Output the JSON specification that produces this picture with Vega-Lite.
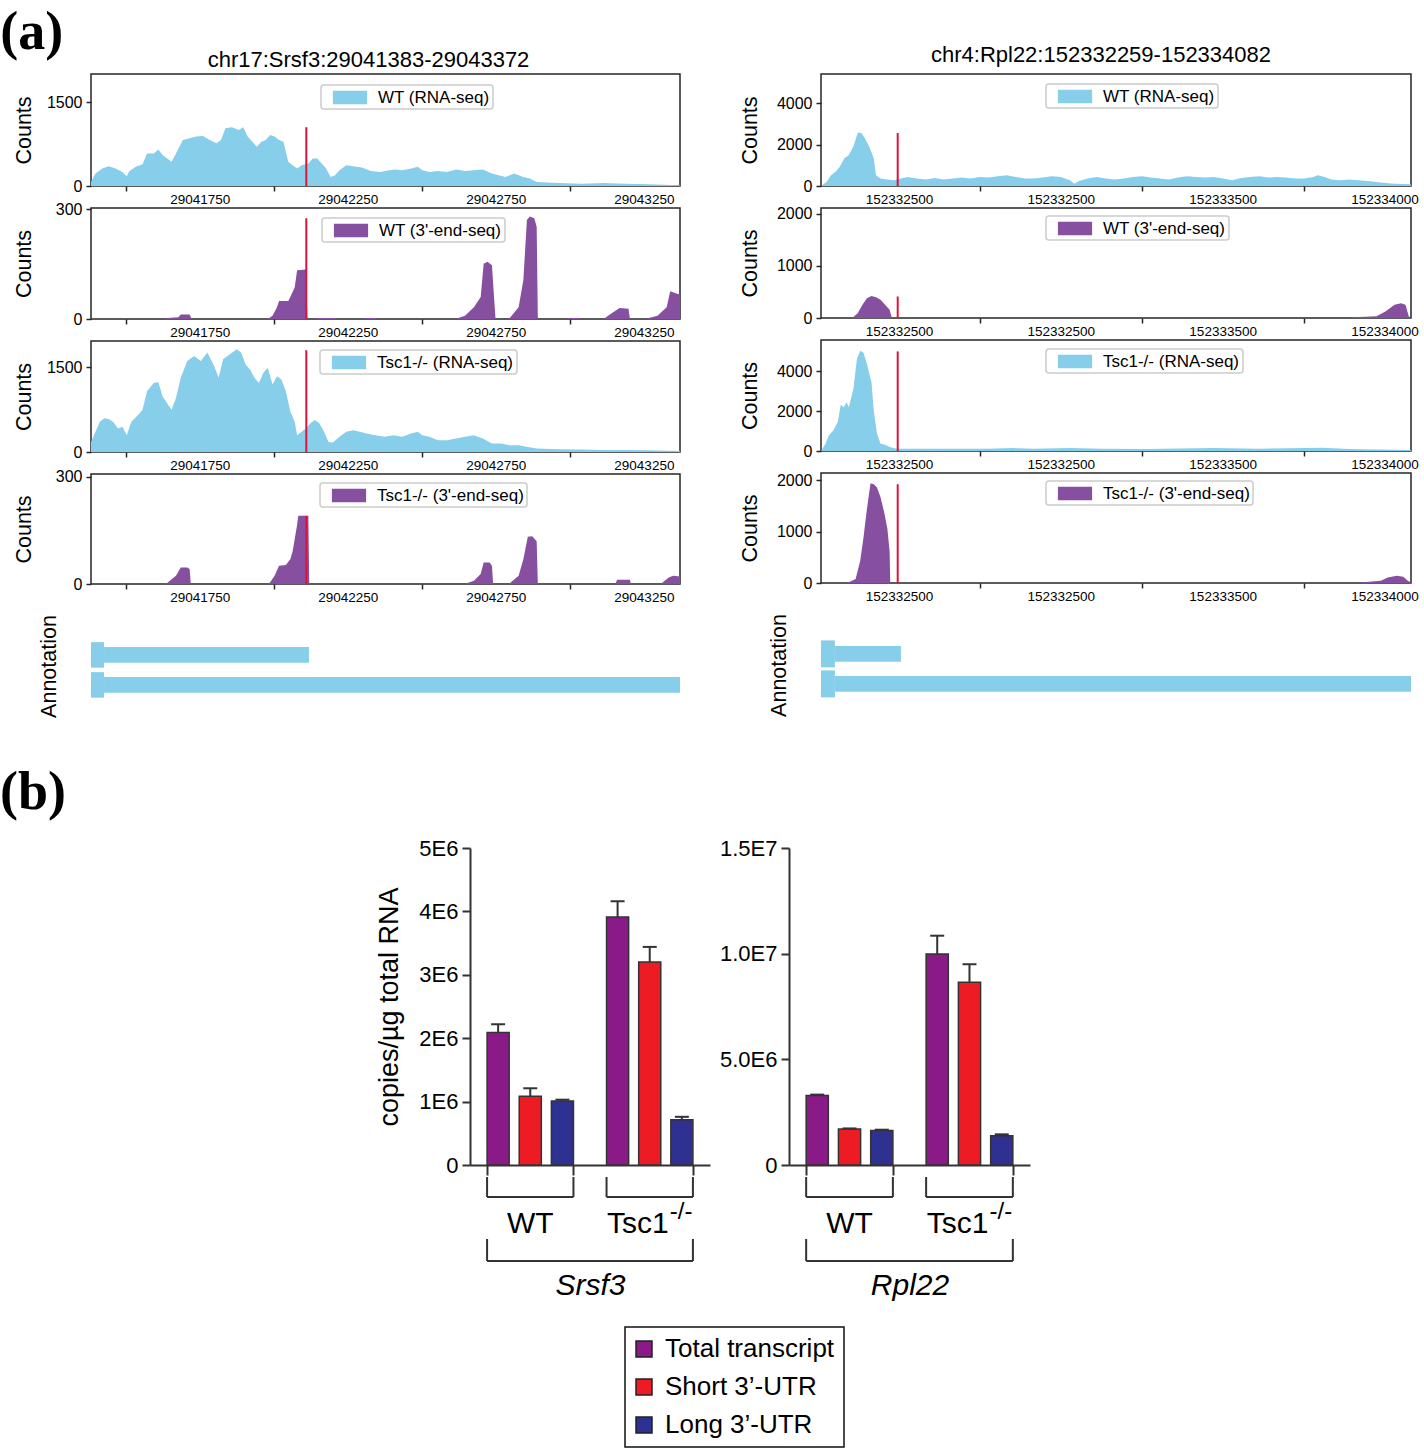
{
"$schema": "https://vega.github.io/schema/vega-lite/v6.json",
"padding": {"left": 0, "top": 6, "right": 0, "bottom": 0},
"config": {
 "font": "Liberation Sans",
 "view": {"stroke": "#262626", "strokeWidth": 1.5},
 "axis": {"grid": false, "labelColor": "black", "titleColor": "black", "tickColor": "#262626", "domainColor": "#262626", "titleFontWeight": "normal", "titleFont": "Liberation Sans", "labelFont": "Liberation Sans"},
 "legend": {"orient": "none", "symbolType": "M-1.8,-0.7H1.8V0.7H-1.8Z", "symbolSize": 361, "symbolOffset": 16.5, "labelOffset": 18.5, "labelFont": "Liberation Sans", "labelFontSize": 17, "labelColor": "black", "padding": 3, "strokeColor": "#cccccc", "strokeWidth": 1.5, "fillColor": "white", "cornerRadius": 3, "labelLimit": 400, "symbolStrokeWidth": 0},
 "title": {"color": "black", "fontWeight": "normal"}
},
"datasets": {
 "L1": [{"pos":29041383,"count":72},{"pos":29041398,"count":222},{"pos":29041421,"count":312},{"pos":29041443,"count":354},{"pos":29041466,"count":312},{"pos":29041489,"count":252},{"pos":29041504,"count":174},{"pos":29041512,"count":264},{"pos":29041534,"count":342},{"pos":29041557,"count":390},{"pos":29041572,"count":582},{"pos":29041595,"count":582},{"pos":29041610,"count":654},{"pos":29041625,"count":552},{"pos":29041640,"count":492},{"pos":29041655,"count":432},{"pos":29041670,"count":582},{"pos":29041693,"count":822},{"pos":29041716,"count":852},{"pos":29041738,"count":882},{"pos":29041761,"count":894},{"pos":29041784,"count":822},{"pos":29041807,"count":762},{"pos":29041822,"count":822},{"pos":29041837,"count":1032},{"pos":29041859,"count":1050},{"pos":29041882,"count":1002},{"pos":29041897,"count":1050},{"pos":29041912,"count":882},{"pos":29041928,"count":792},{"pos":29041943,"count":702},{"pos":29041958,"count":792},{"pos":29041973,"count":822},{"pos":29041988,"count":912},{"pos":29042003,"count":882},{"pos":29042018,"count":822},{"pos":29042033,"count":792},{"pos":29042049,"count":432},{"pos":29042064,"count":372},{"pos":29042079,"count":312},{"pos":29042094,"count":372},{"pos":29042117,"count":402},{"pos":29042132,"count":492},{"pos":29042147,"count":492},{"pos":29042162,"count":402},{"pos":29042177,"count":312},{"pos":29042192,"count":162},{"pos":29042207,"count":192},{"pos":29042222,"count":282},{"pos":29042245,"count":372},{"pos":29042268,"count":354},{"pos":29042298,"count":330},{"pos":29042328,"count":270},{"pos":29042359,"count":252},{"pos":29042389,"count":282},{"pos":29042412,"count":294},{"pos":29042434,"count":282},{"pos":29042464,"count":312},{"pos":29042487,"count":342},{"pos":29042502,"count":282},{"pos":29042525,"count":252},{"pos":29042555,"count":270},{"pos":29042585,"count":252},{"pos":29042616,"count":294},{"pos":29042646,"count":270},{"pos":29042676,"count":282},{"pos":29042706,"count":294},{"pos":29042737,"count":222},{"pos":29042759,"count":192},{"pos":29042782,"count":162},{"pos":29042812,"count":222},{"pos":29042843,"count":162},{"pos":29042865,"count":132},{"pos":29042888,"count":72},{"pos":29042964,"count":54},{"pos":29043039,"count":42},{"pos":29043115,"count":54},{"pos":29043190,"count":42},{"pos":29043266,"count":30},{"pos":29043372,"count":12}],
 "L2": [{"pos":29041383,"count":0},{"pos":29041633,"count":0},{"pos":29041640,"count":3},{"pos":29041678,"count":5},{"pos":29041686,"count":12},{"pos":29041716,"count":12},{"pos":29041723,"count":0},{"pos":29041980,"count":0},{"pos":29041996,"count":9},{"pos":29042011,"count":32},{"pos":29042018,"count":49},{"pos":29042049,"count":49},{"pos":29042056,"count":60},{"pos":29042071,"count":87},{"pos":29042079,"count":133},{"pos":29042109,"count":135},{"pos":29042114,"count":0},{"pos":29042139,"count":0},{"pos":29042147,"count":3},{"pos":29042207,"count":3},{"pos":29042215,"count":0},{"pos":29042306,"count":0},{"pos":29042310,"count":3},{"pos":29042343,"count":3},{"pos":29042348,"count":0},{"pos":29042616,"count":0},{"pos":29042623,"count":3},{"pos":29042646,"count":9},{"pos":29042676,"count":32},{"pos":29042699,"count":60},{"pos":29042709,"count":151},{"pos":29042722,"count":156},{"pos":29042737,"count":147},{"pos":29042744,"count":60},{"pos":29042749,"count":0},{"pos":29042790,"count":0},{"pos":29042797,"count":3},{"pos":29042827,"count":32},{"pos":29042843,"count":106},{"pos":29042855,"count":270},{"pos":29042865,"count":280},{"pos":29042880,"count":275},{"pos":29042888,"count":252},{"pos":29042892,"count":0},{"pos":29042990,"count":0},{"pos":29042994,"count":3},{"pos":29043032,"count":3},{"pos":29043036,"count":0},{"pos":29043115,"count":0},{"pos":29043122,"count":5},{"pos":29043145,"count":18},{"pos":29043168,"count":30},{"pos":29043198,"count":28},{"pos":29043203,"count":0},{"pos":29043259,"count":0},{"pos":29043266,"count":3},{"pos":29043296,"count":9},{"pos":29043327,"count":32},{"pos":29043339,"count":76},{"pos":29043357,"count":70},{"pos":29043372,"count":67}],
 "L3": [{"pos":29041383,"count":178},{"pos":29041398,"count":357},{"pos":29041413,"count":535},{"pos":29041428,"count":595},{"pos":29041443,"count":583},{"pos":29041459,"count":524},{"pos":29041474,"count":416},{"pos":29041489,"count":446},{"pos":29041504,"count":297},{"pos":29041519,"count":535},{"pos":29041542,"count":654},{"pos":29041557,"count":744},{"pos":29041572,"count":1071},{"pos":29041595,"count":1220},{"pos":29041610,"count":1238},{"pos":29041625,"count":982},{"pos":29041640,"count":863},{"pos":29041655,"count":744},{"pos":29041670,"count":952},{"pos":29041686,"count":1309},{"pos":29041708,"count":1607},{"pos":29041731,"count":1696},{"pos":29041754,"count":1607},{"pos":29041776,"count":1755},{"pos":29041799,"count":1517},{"pos":29041814,"count":1309},{"pos":29041829,"count":1636},{"pos":29041852,"count":1726},{"pos":29041875,"count":1815},{"pos":29041890,"count":1755},{"pos":29041905,"count":1547},{"pos":29041920,"count":1458},{"pos":29041935,"count":1309},{"pos":29041950,"count":1220},{"pos":29041965,"count":1398},{"pos":29041980,"count":1488},{"pos":29041996,"count":1190},{"pos":29042011,"count":1339},{"pos":29042026,"count":1279},{"pos":29042041,"count":1071},{"pos":29042056,"count":714},{"pos":29042071,"count":535},{"pos":29042079,"count":297},{"pos":29042094,"count":357},{"pos":29042109,"count":416},{"pos":29042124,"count":506},{"pos":29042139,"count":565},{"pos":29042154,"count":506},{"pos":29042170,"count":357},{"pos":29042185,"count":178},{"pos":29042200,"count":167},{"pos":29042222,"count":268},{"pos":29042245,"count":357},{"pos":29042268,"count":386},{"pos":29042291,"count":357},{"pos":29042313,"count":327},{"pos":29042343,"count":297},{"pos":29042374,"count":268},{"pos":29042404,"count":297},{"pos":29042434,"count":268},{"pos":29042464,"count":327},{"pos":29042487,"count":357},{"pos":29042502,"count":297},{"pos":29042525,"count":268},{"pos":29042555,"count":208},{"pos":29042585,"count":208},{"pos":29042616,"count":238},{"pos":29042646,"count":268},{"pos":29042676,"count":297},{"pos":29042706,"count":238},{"pos":29042737,"count":149},{"pos":29042767,"count":149},{"pos":29042797,"count":119},{"pos":29042827,"count":119},{"pos":29042858,"count":89},{"pos":29042888,"count":60},{"pos":29042964,"count":48},{"pos":29043039,"count":42},{"pos":29043115,"count":36},{"pos":29043190,"count":36},{"pos":29043266,"count":30},{"pos":29043372,"count":18}],
 "L4": [{"pos":29041383,"count":0},{"pos":29041633,"count":0},{"pos":29041640,"count":3},{"pos":29041670,"count":23},{"pos":29041686,"count":46},{"pos":29041708,"count":46},{"pos":29041716,"count":42},{"pos":29041720,"count":0},{"pos":29041980,"count":0},{"pos":29041988,"count":5},{"pos":29042003,"count":23},{"pos":29042018,"count":51},{"pos":29042041,"count":53},{"pos":29042056,"count":69},{"pos":29042064,"count":92},{"pos":29042079,"count":166},{"pos":29042083,"count":191},{"pos":29042117,"count":191},{"pos":29042120,"count":0},{"pos":29042646,"count":0},{"pos":29042654,"count":3},{"pos":29042676,"count":9},{"pos":29042699,"count":28},{"pos":29042709,"count":60},{"pos":29042729,"count":60},{"pos":29042737,"count":51},{"pos":29042741,"count":0},{"pos":29042790,"count":0},{"pos":29042797,"count":2},{"pos":29042827,"count":23},{"pos":29042843,"count":69},{"pos":29042858,"count":132},{"pos":29042873,"count":134},{"pos":29042888,"count":120},{"pos":29042892,"count":0},{"pos":29043153,"count":0},{"pos":29043160,"count":12},{"pos":29043203,"count":12},{"pos":29043206,"count":0},{"pos":29043304,"count":0},{"pos":29043311,"count":3},{"pos":29043334,"count":18},{"pos":29043349,"count":23},{"pos":29043372,"count":21}],
 "R1": [{"pos":152332259,"count":0},{"pos":152332276,"count":195},{"pos":152332290,"count":520},{"pos":152332304,"count":683},{"pos":152332317,"count":927},{"pos":152332331,"count":1333},{"pos":152332345,"count":1496},{"pos":152332359,"count":1902},{"pos":152332373,"count":2585},{"pos":152332384,"count":2553},{"pos":152332394,"count":2309},{"pos":152332408,"count":1902},{"pos":152332422,"count":1333},{"pos":152332429,"count":520},{"pos":152332443,"count":358},{"pos":152332464,"count":309},{"pos":152332485,"count":276},{"pos":152332506,"count":358},{"pos":152332526,"count":439},{"pos":152332554,"count":358},{"pos":152332582,"count":309},{"pos":152332610,"count":390},{"pos":152332638,"count":309},{"pos":152332666,"count":358},{"pos":152332694,"count":406},{"pos":152332721,"count":358},{"pos":152332749,"count":439},{"pos":152332777,"count":406},{"pos":152332805,"count":472},{"pos":152332833,"count":520},{"pos":152332861,"count":439},{"pos":152332889,"count":358},{"pos":152332916,"count":358},{"pos":152332944,"count":406},{"pos":152332972,"count":472},{"pos":152333000,"count":439},{"pos":152333028,"count":276},{"pos":152333042,"count":114},{"pos":152333056,"count":244},{"pos":152333083,"count":358},{"pos":152333111,"count":439},{"pos":152333139,"count":358},{"pos":152333167,"count":309},{"pos":152333195,"count":358},{"pos":152333223,"count":439},{"pos":152333251,"count":472},{"pos":152333278,"count":406},{"pos":152333306,"count":358},{"pos":152333334,"count":309},{"pos":152333362,"count":406},{"pos":152333390,"count":472},{"pos":152333418,"count":439},{"pos":152333446,"count":406},{"pos":152333473,"count":439},{"pos":152333501,"count":358},{"pos":152333529,"count":276},{"pos":152333557,"count":390},{"pos":152333585,"count":439},{"pos":152333613,"count":472},{"pos":152333641,"count":406},{"pos":152333668,"count":439},{"pos":152333696,"count":406},{"pos":152333724,"count":358},{"pos":152333752,"count":358},{"pos":152333780,"count":439},{"pos":152333794,"count":520},{"pos":152333815,"count":439},{"pos":152333836,"count":309},{"pos":152333863,"count":276},{"pos":152333891,"count":309},{"pos":152333919,"count":276},{"pos":152333947,"count":244},{"pos":152333975,"count":195},{"pos":152334003,"count":146},{"pos":152334031,"count":114},{"pos":152334082,"count":81}],
 "R2": [{"pos":152332259,"count":0},{"pos":152332352,"count":0},{"pos":152332359,"count":19},{"pos":152332373,"count":95},{"pos":152332387,"count":254},{"pos":152332401,"count":381},{"pos":152332415,"count":425},{"pos":152332429,"count":400},{"pos":152332443,"count":349},{"pos":152332457,"count":254},{"pos":152332471,"count":159},{"pos":152332478,"count":0},{"pos":152333898,"count":0},{"pos":152333905,"count":13},{"pos":152333975,"count":32},{"pos":152334003,"count":127},{"pos":152334031,"count":254},{"pos":152334051,"count":286},{"pos":152334065,"count":254},{"pos":152334075,"count":32},{"pos":152334082,"count":0}],
 "R3": [{"pos":152332259,"count":0},{"pos":152332273,"count":365},{"pos":152332283,"count":780},{"pos":152332297,"count":1029},{"pos":152332311,"count":1444},{"pos":152332320,"count":2307},{"pos":152332329,"count":2191},{"pos":152332338,"count":2440},{"pos":152332345,"count":2191},{"pos":152332359,"count":3104},{"pos":152332370,"count":4598},{"pos":152332380,"count":5013},{"pos":152332390,"count":4930},{"pos":152332401,"count":4349},{"pos":152332415,"count":3436},{"pos":152332422,"count":2025},{"pos":152332432,"count":863},{"pos":152332443,"count":365},{"pos":152332457,"count":315},{"pos":152332471,"count":199},{"pos":152332492,"count":116},{"pos":152332638,"count":116},{"pos":152332777,"count":116},{"pos":152332847,"count":149},{"pos":152332916,"count":116},{"pos":152333028,"count":149},{"pos":152333125,"count":116},{"pos":152333265,"count":100},{"pos":152333473,"count":149},{"pos":152333613,"count":116},{"pos":152333808,"count":166},{"pos":152333891,"count":100},{"pos":152334082,"count":50}],
 "R4": [{"pos":152332259,"count":0},{"pos":152332338,"count":0},{"pos":152332345,"count":13},{"pos":152332366,"count":76},{"pos":152332380,"count":425},{"pos":152332390,"count":870},{"pos":152332401,"count":1441},{"pos":152332412,"count":1937},{"pos":152332422,"count":1917},{"pos":152332432,"count":1854},{"pos":152332443,"count":1663},{"pos":152332454,"count":1378},{"pos":152332464,"count":1060},{"pos":152332471,"count":616},{"pos":152332473,"count":0},{"pos":152333926,"count":0},{"pos":152333933,"count":13},{"pos":152333989,"count":44},{"pos":152334010,"count":108},{"pos":152334038,"count":140},{"pos":152334058,"count":121},{"pos":152334072,"count":44},{"pos":152334082,"count":13}],
 "LA": [{"tx":"short","part":"cds","start":29041383,"end":29041427},{"tx":"short","part":"utr","start":29041427,"end":29042119},{"tx":"long","part":"cds","start":29041383,"end":29041427},{"tx":"long","part":"utr","start":29041427,"end":29043372}],
 "RA": [{"tx":"short","part":"cds","start":152332259,"end":152332302},{"tx":"short","part":"utr","start":152332302,"end":152332506},{"tx":"long","part":"cds","start":152332259,"end":152332302},{"tx":"long","part":"utr","start":152332302,"end":152334082}],
 "bars": [
  {"gene":"Srsf3","group":"WT","type":"Total transcript","value":2090000,"upper":2220000},
  {"gene":"Srsf3","group":"WT","type":"Short 3’-UTR","value":1085000,"upper":1210000},
  {"gene":"Srsf3","group":"WT","type":"Long 3’-UTR","value":1010000,"upper":1030000},
  {"gene":"Srsf3","group":"Tsc1","type":"Total transcript","value":3910000,"upper":4160000},
  {"gene":"Srsf3","group":"Tsc1","type":"Short 3’-UTR","value":3200000,"upper":3440000},
  {"gene":"Srsf3","group":"Tsc1","type":"Long 3’-UTR","value":715000,"upper":760000},
  {"gene":"Rpl22","group":"WT","type":"Total transcript","value":3290000,"upper":3330000},
  {"gene":"Rpl22","group":"WT","type":"Short 3’-UTR","value":1700000,"upper":1730000},
  {"gene":"Rpl22","group":"WT","type":"Long 3’-UTR","value":1630000,"upper":1670000},
  {"gene":"Rpl22","group":"Tsc1","type":"Total transcript","value":9980000,"upper":10850000},
  {"gene":"Rpl22","group":"Tsc1","type":"Short 3’-UTR","value":8650000,"upper":9500000},
  {"gene":"Rpl22","group":"Tsc1","type":"Long 3’-UTR","value":1380000,"upper":1450000}
 ],
 "brackets": [
  {"gene":"Srsf3","from":"WT","to":"WT","level":"inner"},
  {"gene":"Srsf3","from":"Tsc1","to":"Tsc1","level":"inner"},
  {"gene":"Srsf3","from":"WT","to":"Tsc1","level":"outer"},
  {"gene":"Rpl22","from":"WT","to":"WT","level":"inner"},
  {"gene":"Rpl22","from":"Tsc1","to":"Tsc1","level":"inner"},
  {"gene":"Rpl22","from":"WT","to":"Tsc1","level":"outer"}
 ],
 "glabels": [
  {"gene":"Srsf3","group":"WT","sup":""},
  {"gene":"Srsf3","group":"Tsc1","sup":"-/-"},
  {"gene":"Rpl22","group":"WT","sup":""},
  {"gene":"Rpl22","group":"Tsc1","sup":"-/-"}
 ]
},
"resolve": {"scale": {"color": "independent", "xOffset": "independent"}, "legend": {"color": "independent"}},
"spacing": 40,
"vconcat": [
 {
  "title": {"text": "(a)", "font": "Liberation Serif", "fontSize": 54, "fontWeight": "bold", "anchor": "start", "dx": -12, "offset": -17, "color": "black"},
  "resolve": {"scale": {"color": "independent"}, "legend": {"color": "independent"}},
  "spacing": 57,
  "hconcat": [
   {
    "resolve": {"scale": {"color": "independent"}, "legend": {"color": "independent"}},
    "spacing": 22,
    "bounds": "flush",
    "vconcat": [
     {"width": 589, "height": 112,
      "title": {"text": "chr17:Srsf3:29041383-29043372", "font": "Liberation Sans", "fontSize": 22, "anchor": "middle", "frame": "group", "dx": -17, "offset": 2},
      "layer": [
       {"data": {"name": "L1"}, "mark": {"type": "area", "opacity": 1, "clip": true},
        "encoding": {
         "x": {"field": "pos", "type": "quantitative", "scale": {"domain": [29041383, 29043372], "nice": false, "zero": false}, "axis": {"values": [29041500,29041750,29042000,29042250,29042500,29042750,29043000,29043250], "title": null, "domain": false, "tickSize": 5, "tickWidth": 1.5, "tickOpacity": {"condition": {"test": "datum.value % 500 == 0", "value": 1}, "value": 0}, "labelExpr": "datum.value % 500 == 250 ? format(datum.value, 'd') : ''", "labelFontSize": 13.5, "labelPadding": 1, "labelFlush": false, "labelOverlap": false}},
         "y": {"field": "count", "type": "quantitative", "scale": {"domain": [0, 2000], "nice": false}, "axis": {"values": [0,500,1000,1500], "format": "d", "title": "Counts", "titleFontSize": 21.5, "titlePadding": 12, "minExtent": 44, "maxExtent": 44, "labelFontSize": 16, "labelPadding": 4, "tickSize": 5, "tickWidth": 1.5, "domain": false}},
         "color": {"datum": "WT (RNA-seq)", "scale": {"range": ["#87CEEB"]}, "legend": {"title": null, "legendX": 230, "legendY": 11}}
        }},
       {"data": {"values": [{"pos": 29042110, "top": 1050}]}, "mark": {"type": "rule", "color": "#DC143C", "strokeWidth": 2},
        "encoding": {"x": {"field": "pos", "type": "quantitative"}, "y": {"field": "top", "type": "quantitative"}, "y2": {"datum": 0}}}
      ]},
     {"width": 589, "height": 111,
      "layer": [
       {"data": {"name": "L2"}, "mark": {"type": "area", "opacity": 1, "clip": true},
        "encoding": {
         "x": {"field": "pos", "type": "quantitative", "scale": {"domain": [29041383, 29043372], "nice": false, "zero": false}, "axis": {"values": [29041500,29041750,29042000,29042250,29042500,29042750,29043000,29043250], "title": null, "domain": false, "tickSize": 5, "tickWidth": 1.5, "tickOpacity": {"condition": {"test": "datum.value % 500 == 0", "value": 1}, "value": 0}, "labelExpr": "datum.value % 500 == 250 ? format(datum.value, 'd') : ''", "labelFontSize": 13.5, "labelPadding": 1, "labelFlush": false, "labelOverlap": false}},
         "y": {"field": "count", "type": "quantitative", "scale": {"domain": [0, 303], "nice": false}, "axis": {"values": [0,100,200,300], "format": "d", "title": "Counts", "titleFontSize": 21.5, "titlePadding": 12, "minExtent": 44, "maxExtent": 44, "labelFontSize": 16, "labelPadding": 4, "tickSize": 5, "tickWidth": 1.5, "domain": false}},
         "color": {"datum": "WT (3'-end-seq)", "scale": {"range": ["#874FA0"]}, "legend": {"title": null, "legendX": 231, "legendY": 10}}
        }},
       {"data": {"values": [{"pos": 29042110, "top": 275}]}, "mark": {"type": "rule", "color": "#DC143C", "strokeWidth": 2},
        "encoding": {"x": {"field": "pos", "type": "quantitative"}, "y": {"field": "top", "type": "quantitative"}, "y2": {"datum": 0}}}
      ]},
     {"width": 589, "height": 111,
      "layer": [
       {"data": {"name": "L3"}, "mark": {"type": "area", "opacity": 1, "clip": true},
        "encoding": {
         "x": {"field": "pos", "type": "quantitative", "scale": {"domain": [29041383, 29043372], "nice": false, "zero": false}, "axis": {"values": [29041500,29041750,29042000,29042250,29042500,29042750,29043000,29043250], "title": null, "domain": false, "tickSize": 5, "tickWidth": 1.5, "tickOpacity": {"condition": {"test": "datum.value % 500 == 0", "value": 1}, "value": 0}, "labelExpr": "datum.value % 500 == 250 ? format(datum.value, 'd') : ''", "labelFontSize": 13.5, "labelPadding": 1, "labelFlush": false, "labelOverlap": false}},
         "y": {"field": "count", "type": "quantitative", "scale": {"domain": [0, 1960], "nice": false}, "axis": {"values": [0,500,1000,1500], "format": "d", "title": "Counts", "titleFontSize": 21.5, "titlePadding": 12, "minExtent": 44, "maxExtent": 44, "labelFontSize": 16, "labelPadding": 4, "tickSize": 5, "tickWidth": 1.5, "domain": false}},
         "color": {"datum": "Tsc1-/- (RNA-seq)", "scale": {"range": ["#87CEEB"]}, "legend": {"title": null, "legendX": 229, "legendY": 9}}
        }},
       {"data": {"values": [{"pos": 29042110, "top": 1797}]}, "mark": {"type": "rule", "color": "#DC143C", "strokeWidth": 2},
        "encoding": {"x": {"field": "pos", "type": "quantitative"}, "y": {"field": "top", "type": "quantitative"}, "y2": {"datum": 0}}}
      ]},
     {"width": 589, "height": 110,
      "layer": [
       {"data": {"name": "L4"}, "mark": {"type": "area", "opacity": 1, "clip": true},
        "encoding": {
         "x": {"field": "pos", "type": "quantitative", "scale": {"domain": [29041383, 29043372], "nice": false, "zero": false}, "axis": {"values": [29041500,29041750,29042000,29042250,29042500,29042750,29043000,29043250], "title": null, "domain": false, "tickSize": 5, "tickWidth": 1.5, "tickOpacity": {"condition": {"test": "datum.value % 500 == 0", "value": 1}, "value": 0}, "labelExpr": "datum.value % 500 == 250 ? format(datum.value, 'd') : ''", "labelFontSize": 13.5, "labelPadding": 1, "labelFlush": false, "labelOverlap": false}},
         "y": {"field": "count", "type": "quantitative", "scale": {"domain": [0, 308], "nice": false}, "axis": {"values": [0,100,200,300], "format": "d", "title": "Counts", "titleFontSize": 21.5, "titlePadding": 12, "minExtent": 44, "maxExtent": 44, "labelFontSize": 16, "labelPadding": 4, "tickSize": 5, "tickWidth": 1.5, "domain": false}},
         "color": {"datum": "Tsc1-/- (3'-end-seq)", "scale": {"range": ["#874FA0"]}, "legend": {"title": null, "legendX": 229, "legendY": 9}}
        }},
       {"data": {"values": [{"pos": 29042110, "top": 191}]}, "mark": {"type": "rule", "color": "#DC143C", "strokeWidth": 2},
        "encoding": {"x": {"field": "pos", "type": "quantitative"}, "y": {"field": "top", "type": "quantitative"}, "y2": {"datum": 0}}}
      ]},
     {"width": 589, "height": 120, "view": {"stroke": null},
      "data": {"name": "LA"},
      "encoding": {
       "x": {"field": "start", "type": "quantitative", "scale": {"domain": [29041383, 29043372], "nice": false, "zero": false}, "axis": null},
       "x2": {"field": "end"},
       "y": {"field": "tx", "type": "nominal", "sort": ["short", "long"], "scale": {"domain": ["short", "long"], "paddingInner": 0, "paddingOuter": 1.069, "align": 0.565}, "axis": {"title": "Annotation", "labels": false, "ticks": false, "domain": false, "titleFontSize": 21.5, "titlePadding": 31, "minExtent": 0, "maxExtent": 0}}
      },
      "layer": [
       {"transform": [{"filter": "datum.part == 'cds'"}], "mark": {"type": "bar", "color": "#87CEEB", "opacity": 1, "height": {"band": 0.85}}},
       {"transform": [{"filter": "datum.part == 'utr'"}], "mark": {"type": "bar", "color": "#87CEEB", "opacity": 1, "height": {"band": 0.52}}}
      ]}
    ]
   },
   {
    "resolve": {"scale": {"color": "independent"}, "legend": {"color": "independent"}},
    "spacing": 22,
    "bounds": "flush",
    "vconcat": [
     {"width": 590, "height": 112,
      "title": {"text": "chr4:Rpl22:152332259-152334082", "font": "Liberation Sans", "fontSize": 22, "anchor": "middle", "frame": "group", "dx": -15, "offset": 7},
      "layer": [
       {"data": {"name": "R1"}, "mark": {"type": "area", "opacity": 1, "clip": true},
        "encoding": {
         "x": {"field": "pos", "type": "quantitative", "scale": {"domain": [152332259, 152334082], "nice": false, "zero": false}, "axis": {"values": [152332500,152332750,152333000,152333250,152333500,152333750,152334000], "title": null, "domain": false, "tickSize": 5, "tickWidth": 1.5, "tickOpacity": {"condition": {"test": "datum.value % 500 == 250", "value": 1}, "value": 0}, "labelExpr": "datum.value % 500 != 0 ? '' : (datum.value == 152333000 ? '152332500' : format(datum.value, 'd'))", "labelFontSize": 13.5, "labelPadding": 1, "labelFlush": false, "labelOverlap": false}},
         "y": {"field": "count", "type": "quantitative", "scale": {"domain": [0, 5400], "nice": false}, "axis": {"values": [0,2000,4000], "format": "d", "title": "Counts", "titleFontSize": 21.5, "titlePadding": 16, "minExtent": 44, "maxExtent": 44, "labelFontSize": 16, "labelPadding": 4, "tickSize": 5, "tickWidth": 1.5, "domain": false}},
         "color": {"datum": "WT (RNA-seq)", "scale": {"range": ["#87CEEB"]}, "legend": {"title": null, "legendX": 225, "legendY": 10}}
        }},
       {"data": {"values": [{"pos": 152332496, "top": 2553}]}, "mark": {"type": "rule", "color": "#DC143C", "strokeWidth": 2},
        "encoding": {"x": {"field": "pos", "type": "quantitative"}, "y": {"field": "top", "type": "quantitative"}, "y2": {"datum": 0}}}
      ]},
     {"width": 590, "height": 110,
      "layer": [
       {"data": {"name": "R2"}, "mark": {"type": "area", "opacity": 1, "clip": true},
        "encoding": {
         "x": {"field": "pos", "type": "quantitative", "scale": {"domain": [152332259, 152334082], "nice": false, "zero": false}, "axis": {"values": [152332500,152332750,152333000,152333250,152333500,152333750,152334000], "title": null, "domain": false, "tickSize": 5, "tickWidth": 1.5, "tickOpacity": {"condition": {"test": "datum.value % 500 == 250", "value": 1}, "value": 0}, "labelExpr": "datum.value % 500 != 0 ? '' : (datum.value == 152333000 ? '152332500' : format(datum.value, 'd'))", "labelFontSize": 13.5, "labelPadding": 1, "labelFlush": false, "labelOverlap": false}},
         "y": {"field": "count", "type": "quantitative", "scale": {"domain": [0, 2115], "nice": false}, "axis": {"values": [0,500,1000,1500,2000], "labelExpr": "datum.value % 1000 == 0 ? format(datum.value, 'd') : ''", "title": "Counts", "titleFontSize": 21.5, "titlePadding": 16, "minExtent": 44, "maxExtent": 44, "labelFontSize": 16, "labelPadding": 4, "tickSize": {"condition": {"test": "datum.value % 1000 != 0", "value": 3}, "value": 5}, "tickWidth": 1.5, "domain": false}},
         "color": {"datum": "WT (3'-end-seq)", "scale": {"range": ["#874FA0"]}, "legend": {"title": null, "legendX": 225, "legendY": 8}}
        }},
       {"data": {"values": [{"pos": 152332496, "top": 413}]}, "mark": {"type": "rule", "color": "#DC143C", "strokeWidth": 2},
        "encoding": {"x": {"field": "pos", "type": "quantitative"}, "y": {"field": "top", "type": "quantitative"}, "y2": {"datum": 0}}}
      ]},
     {"width": 590, "height": 111,
      "layer": [
       {"data": {"name": "R3"}, "mark": {"type": "area", "opacity": 1, "clip": true},
        "encoding": {
         "x": {"field": "pos", "type": "quantitative", "scale": {"domain": [152332259, 152334082], "nice": false, "zero": false}, "axis": {"values": [152332500,152332750,152333000,152333250,152333500,152333750,152334000], "title": null, "domain": false, "tickSize": 5, "tickWidth": 1.5, "tickOpacity": {"condition": {"test": "datum.value % 500 == 250", "value": 1}, "value": 0}, "labelExpr": "datum.value % 500 != 0 ? '' : (datum.value == 152333000 ? '152332500' : format(datum.value, 'd'))", "labelFontSize": 13.5, "labelPadding": 1, "labelFlush": false, "labelOverlap": false}},
         "y": {"field": "count", "type": "quantitative", "scale": {"domain": [0, 5550], "nice": false}, "axis": {"values": [0,2000,4000], "format": "d", "title": "Counts", "titleFontSize": 21.5, "titlePadding": 16, "minExtent": 44, "maxExtent": 44, "labelFontSize": 16, "labelPadding": 4, "tickSize": 5, "tickWidth": 1.5, "domain": false}},
         "color": {"datum": "Tsc1-/- (RNA-seq)", "scale": {"range": ["#87CEEB"]}, "legend": {"title": null, "legendX": 225, "legendY": 9}}
        }},
       {"data": {"values": [{"pos": 152332496, "top": 4980}]}, "mark": {"type": "rule", "color": "#DC143C", "strokeWidth": 2},
        "encoding": {"x": {"field": "pos", "type": "quantitative"}, "y": {"field": "top", "type": "quantitative"}, "y2": {"datum": 0}}}
      ]},
     {"width": 590, "height": 110,
      "layer": [
       {"data": {"name": "R4"}, "mark": {"type": "area", "opacity": 1, "clip": true},
        "encoding": {
         "x": {"field": "pos", "type": "quantitative", "scale": {"domain": [152332259, 152334082], "nice": false, "zero": false}, "axis": {"values": [152332500,152332750,152333000,152333250,152333500,152333750,152334000], "title": null, "domain": false, "tickSize": 5, "tickWidth": 1.5, "tickOpacity": {"condition": {"test": "datum.value % 500 == 250", "value": 1}, "value": 0}, "labelExpr": "datum.value % 500 != 0 ? '' : (datum.value == 152333000 ? '152332500' : format(datum.value, 'd'))", "labelFontSize": 13.5, "labelPadding": 1, "labelFlush": false, "labelOverlap": false}},
         "y": {"field": "count", "type": "quantitative", "scale": {"domain": [0, 2136], "nice": false}, "axis": {"values": [0,500,1000,1500,2000], "labelExpr": "datum.value % 1000 == 0 ? format(datum.value, 'd') : ''", "title": "Counts", "titleFontSize": 21.5, "titlePadding": 16, "minExtent": 44, "maxExtent": 44, "labelFontSize": 16, "labelPadding": 4, "tickSize": {"condition": {"test": "datum.value % 1000 != 0", "value": 3}, "value": 5}, "tickWidth": 1.5, "domain": false}},
         "color": {"datum": "Tsc1-/- (3'-end-seq)", "scale": {"range": ["#874FA0"]}, "legend": {"title": null, "legendX": 225, "legendY": 8}}
        }},
       {"data": {"values": [{"pos": 152332496, "top": 1918}]}, "mark": {"type": "rule", "color": "#DC143C", "strokeWidth": 2},
        "encoding": {"x": {"field": "pos", "type": "quantitative"}, "y": {"field": "top", "type": "quantitative"}, "y2": {"datum": 0}}}
      ]},
     {"width": 590, "height": 120, "view": {"stroke": null},
      "data": {"name": "RA"},
      "encoding": {
       "x": {"field": "start", "type": "quantitative", "scale": {"domain": [152332259, 152334082], "nice": false, "zero": false}, "axis": null},
       "x2": {"field": "end"},
       "y": {"field": "tx", "type": "nominal", "sort": ["short", "long"], "scale": {"domain": ["short", "long"], "paddingInner": 0, "paddingOuter": 1.182, "align": 0.565}, "axis": {"title": "Annotation", "labels": false, "ticks": false, "domain": false, "titleFontSize": 21.5, "titlePadding": 31, "minExtent": 0, "maxExtent": 0}}
      },
      "layer": [
       {"transform": [{"filter": "datum.part == 'cds'"}], "mark": {"type": "bar", "color": "#87CEEB", "opacity": 1, "height": {"band": 0.9}}},
       {"transform": [{"filter": "datum.part == 'utr'"}], "mark": {"type": "bar", "color": "#87CEEB", "opacity": 1, "height": {"band": 0.53}}}
      ]}
    ]
   }
  ]
 },
 {
  "resolve": {"scale": {"color": "independent", "xOffset": "independent"}, "legend": {"color": "independent"}},
  "spacing": 79,
  "bounds": "flush",
  "hconcat": [
   {"width": 300, "height": 317, "view": {"stroke": null},
    "title": {"text": "(b)", "font": "Liberation Serif", "fontSize": 54, "fontWeight": "bold", "anchor": "start", "frame": "group", "dx": -91, "offset": 28, "color": "black"},
    "data": {"values": []},
    "mark": "point"},
   {"width": 240, "height": 317, "view": {"stroke": null},
    "layer": [
     {"data": {"name": "bars"}, "transform": [{"filter": "datum.gene == 'Srsf3'"}],
      "mark": {"type": "bar", "stroke": "#333333", "strokeWidth": 1.5, "opacity": 1},
      "encoding": {
       "x": {"field": "group", "type": "nominal", "sort": ["WT", "Tsc1"], "scale": {"domain": ["WT", "Tsc1"], "paddingInner": 0.277, "paddingOuter": 0.143}, "axis": {"title": "Srsf3", "titleFont": "Liberation Sans", "titleFontStyle": "italic", "titleFontSize": 30, "titlePadding": 95, "labels": false, "tickBand": "extent", "tickSize": 10, "tickWidth": 2, "tickColor": "#333333", "domain": true, "domainWidth": 2, "domainColor": "#333333", "minExtent": 10, "maxExtent": 10}},
       "xOffset": {"field": "type", "type": "nominal", "sort": ["Total transcript", "Short 3’-UTR", "Long 3’-UTR"], "scale": {"domain": ["Total transcript", "Short 3’-UTR", "Long 3’-UTR"], "paddingInner": 0.3125, "paddingOuter": 0}},
       "y": {"field": "value", "type": "quantitative", "scale": {"domain": [0, 5000000], "nice": false}, "axis": {"values": [0,1000000,2000000,3000000,4000000,5000000], "labelExpr": "datum.value == 0 ? '0' : (datum.value / 1000000) + 'E6'", "title": "copies/µg total RNA", "titleFontSize": 27, "titlePadding": 15, "minExtent": 52, "maxExtent": 52, "labelFontSize": 22, "labelPadding": 4, "tickSize": 8, "tickWidth": 2, "tickColor": "#333333", "domain": true, "domainWidth": 2, "domainColor": "#333333"}},
       "color": {"field": "type", "type": "nominal", "scale": {"domain": ["Total transcript", "Short 3’-UTR", "Long 3’-UTR"], "range": ["#8B1A89", "#ED1C24", "#2E3192"]},
        "legend": {"title": null, "orient": "none", "legendX": 155, "legendY": 479, "symbolType": "square", "symbolSize": 256, "symbolStrokeColor": "#222222", "symbolStrokeWidth": 1.5, "symbolOffset": -3, "labelOffset": 8, "labelFontSize": 26, "padding": 9, "rowPadding": 12, "strokeColor": "#111111", "cornerRadius": 0}}
      }},
     {"data": {"name": "bars"}, "transform": [{"filter": "datum.gene == 'Srsf3'"}],
      "mark": {"type": "rule", "color": "#333333", "strokeWidth": 2},
      "encoding": {
       "x": {"field": "group", "type": "nominal", "scale": {"domain": ["WT", "Tsc1"], "paddingInner": 0.277, "paddingOuter": 0.143}},
       "xOffset": {"field": "type", "type": "nominal", "scale": {"domain": ["Total transcript", "Short 3’-UTR", "Long 3’-UTR"], "paddingInner": 0.3125, "paddingOuter": 0}},
       "y": {"field": "value", "type": "quantitative"}, "y2": {"field": "upper"}
      }},
     {"data": {"name": "bars"}, "transform": [{"filter": "datum.gene == 'Srsf3'"}],
      "mark": {"type": "tick", "color": "#333333", "thickness": 2, "size": 14, "orient": "horizontal", "opacity": 1},
      "encoding": {
       "x": {"field": "group", "type": "nominal", "scale": {"domain": ["WT", "Tsc1"], "paddingInner": 0.277, "paddingOuter": 0.143}},
       "xOffset": {"field": "type", "type": "nominal", "scale": {"domain": ["Total transcript", "Short 3’-UTR", "Long 3’-UTR"], "paddingInner": 0.3125, "paddingOuter": 0}},
       "y": {"field": "upper", "type": "quantitative"}
      }},
     {"data": {"name": "brackets"}, "transform": [{"filter": "datum.gene == 'Srsf3' && datum.level == 'inner'"}],
      "mark": {"type": "rule", "color": "#333333", "strokeWidth": 2, "yOffset": 12, "y2Offset": 32},
      "encoding": {"x": {"field": "from", "type": "nominal", "bandPosition": 0, "scale": {"domain": ["WT", "Tsc1"], "paddingInner": 0.277, "paddingOuter": 0.143}}, "y": {"datum": 0}, "y2": {"datum": 0}}},
     {"data": {"name": "brackets"}, "transform": [{"filter": "datum.gene == 'Srsf3' && datum.level == 'inner'"}],
      "mark": {"type": "rule", "color": "#333333", "strokeWidth": 2, "yOffset": 12, "y2Offset": 32},
      "encoding": {"x": {"field": "to", "type": "nominal", "bandPosition": 1, "scale": {"domain": ["WT", "Tsc1"], "paddingInner": 0.277, "paddingOuter": 0.143}}, "y": {"datum": 0}, "y2": {"datum": 0}}},
     {"data": {"name": "brackets"}, "transform": [{"filter": "datum.gene == 'Srsf3' && datum.level == 'inner'"}],
      "mark": {"type": "rule", "color": "#333333", "strokeWidth": 2, "yOffset": 32},
      "encoding": {"x": {"field": "from", "type": "nominal", "bandPosition": 0, "scale": {"domain": ["WT", "Tsc1"], "paddingInner": 0.277, "paddingOuter": 0.143}}, "x2": {"field": "to", "bandPosition": 1}, "y": {"datum": 0}}},
     {"data": {"name": "brackets"}, "transform": [{"filter": "datum.gene == 'Srsf3' && datum.level == 'outer'"}],
      "mark": {"type": "rule", "color": "#333333", "strokeWidth": 2, "yOffset": 74, "y2Offset": 96},
      "encoding": {"x": {"field": "from", "type": "nominal", "bandPosition": 0, "scale": {"domain": ["WT", "Tsc1"], "paddingInner": 0.277, "paddingOuter": 0.143}}, "y": {"datum": 0}, "y2": {"datum": 0}}},
     {"data": {"name": "brackets"}, "transform": [{"filter": "datum.gene == 'Srsf3' && datum.level == 'outer'"}],
      "mark": {"type": "rule", "color": "#333333", "strokeWidth": 2, "yOffset": 74, "y2Offset": 96},
      "encoding": {"x": {"field": "to", "type": "nominal", "bandPosition": 1, "scale": {"domain": ["WT", "Tsc1"], "paddingInner": 0.277, "paddingOuter": 0.143}}, "y": {"datum": 0}, "y2": {"datum": 0}}},
     {"data": {"name": "brackets"}, "transform": [{"filter": "datum.gene == 'Srsf3' && datum.level == 'outer'"}],
      "mark": {"type": "rule", "color": "#333333", "strokeWidth": 2, "yOffset": 96},
      "encoding": {"x": {"field": "from", "type": "nominal", "bandPosition": 0, "scale": {"domain": ["WT", "Tsc1"], "paddingInner": 0.277, "paddingOuter": 0.143}}, "x2": {"field": "to", "bandPosition": 1}, "y": {"datum": 0}}},
     {"data": {"name": "glabels"}, "transform": [{"filter": "datum.gene == 'Srsf3' && datum.group == 'WT'"}],
      "mark": {"type": "text", "font": "Liberation Sans", "fontSize": 30, "baseline": "alphabetic", "align": "center", "dy": 68, "color": "black"},
      "encoding": {"x": {"field": "group", "type": "nominal", "scale": {"domain": ["WT", "Tsc1"], "paddingInner": 0.277, "paddingOuter": 0.143}}, "y": {"datum": 0}, "text": {"field": "group"}}},
     {"data": {"name": "glabels"}, "transform": [{"filter": "datum.gene == 'Srsf3' && datum.group == 'Tsc1'"}],
      "mark": {"type": "text", "font": "Liberation Sans", "fontSize": 30, "baseline": "alphabetic", "align": "right", "dx": 19, "dy": 68, "color": "black"},
      "encoding": {"x": {"field": "group", "type": "nominal", "scale": {"domain": ["WT", "Tsc1"], "paddingInner": 0.277, "paddingOuter": 0.143}}, "y": {"datum": 0}, "text": {"field": "group"}}},
     {"data": {"name": "glabels"}, "transform": [{"filter": "datum.gene == 'Srsf3' && datum.group == 'Tsc1'"}],
      "mark": {"type": "text", "font": "Liberation Sans", "fontSize": 24, "baseline": "alphabetic", "align": "left", "dx": 20, "dy": 54, "color": "black"},
      "encoding": {"x": {"field": "group", "type": "nominal", "scale": {"domain": ["WT", "Tsc1"], "paddingInner": 0.277, "paddingOuter": 0.143}}, "y": {"datum": 0}, "text": {"field": "sup"}}}
    ]},
   {"width": 241, "height": 317, "view": {"stroke": null},
    "layer": [
     {"data": {"name": "bars"}, "transform": [{"filter": "datum.gene == 'Rpl22'"}],
      "mark": {"type": "bar", "stroke": "#333333", "strokeWidth": 1.5, "opacity": 1},
      "encoding": {
       "x": {"field": "group", "type": "nominal", "sort": ["WT", "Tsc1"], "scale": {"domain": ["WT", "Tsc1"], "paddingInner": 0.277, "paddingOuter": 0.143}, "axis": {"title": "Rpl22", "titleFont": "Liberation Sans", "titleFontStyle": "italic", "titleFontSize": 30, "titlePadding": 95, "labels": false, "tickBand": "extent", "tickSize": 10, "tickWidth": 2, "tickColor": "#333333", "domain": true, "domainWidth": 2, "domainColor": "#333333", "minExtent": 10, "maxExtent": 10}},
       "xOffset": {"field": "type", "type": "nominal", "sort": ["Total transcript", "Short 3’-UTR", "Long 3’-UTR"], "scale": {"domain": ["Total transcript", "Short 3’-UTR", "Long 3’-UTR"], "paddingInner": 0.3125, "paddingOuter": 0}},
       "y": {"field": "value", "type": "quantitative", "scale": {"domain": [0, 15000000], "nice": false}, "axis": {"values": [0,5000000,10000000,15000000], "labelExpr": "datum.value == 0 ? '0' : (datum.value == 5000000 ? '5.0E6' : (datum.value == 10000000 ? '1.0E7' : '1.5E7'))", "title": null, "labelFontSize": 22, "labelPadding": 4, "tickSize": 8, "tickWidth": 2, "tickColor": "#333333", "domain": true, "domainWidth": 2, "domainColor": "#333333"}},
       "color": {"field": "type", "type": "nominal", "scale": {"domain": ["Total transcript", "Short 3’-UTR", "Long 3’-UTR"], "range": ["#8B1A89", "#ED1C24", "#2E3192"]}, "legend": null}
      }},
     {"data": {"name": "bars"}, "transform": [{"filter": "datum.gene == 'Rpl22'"}],
      "mark": {"type": "rule", "color": "#333333", "strokeWidth": 2},
      "encoding": {
       "x": {"field": "group", "type": "nominal", "scale": {"domain": ["WT", "Tsc1"], "paddingInner": 0.277, "paddingOuter": 0.143}},
       "xOffset": {"field": "type", "type": "nominal", "scale": {"domain": ["Total transcript", "Short 3’-UTR", "Long 3’-UTR"], "paddingInner": 0.3125, "paddingOuter": 0}},
       "y": {"field": "value", "type": "quantitative"}, "y2": {"field": "upper"}
      }},
     {"data": {"name": "bars"}, "transform": [{"filter": "datum.gene == 'Rpl22'"}],
      "mark": {"type": "tick", "color": "#333333", "thickness": 2, "size": 14, "orient": "horizontal", "opacity": 1},
      "encoding": {
       "x": {"field": "group", "type": "nominal", "scale": {"domain": ["WT", "Tsc1"], "paddingInner": 0.277, "paddingOuter": 0.143}},
       "xOffset": {"field": "type", "type": "nominal", "scale": {"domain": ["Total transcript", "Short 3’-UTR", "Long 3’-UTR"], "paddingInner": 0.3125, "paddingOuter": 0}},
       "y": {"field": "upper", "type": "quantitative"}
      }},
     {"data": {"name": "brackets"}, "transform": [{"filter": "datum.gene == 'Rpl22' && datum.level == 'inner'"}],
      "mark": {"type": "rule", "color": "#333333", "strokeWidth": 2, "yOffset": 12, "y2Offset": 32},
      "encoding": {"x": {"field": "from", "type": "nominal", "bandPosition": 0, "scale": {"domain": ["WT", "Tsc1"], "paddingInner": 0.277, "paddingOuter": 0.143}}, "y": {"datum": 0}, "y2": {"datum": 0}}},
     {"data": {"name": "brackets"}, "transform": [{"filter": "datum.gene == 'Rpl22' && datum.level == 'inner'"}],
      "mark": {"type": "rule", "color": "#333333", "strokeWidth": 2, "yOffset": 12, "y2Offset": 32},
      "encoding": {"x": {"field": "to", "type": "nominal", "bandPosition": 1, "scale": {"domain": ["WT", "Tsc1"], "paddingInner": 0.277, "paddingOuter": 0.143}}, "y": {"datum": 0}, "y2": {"datum": 0}}},
     {"data": {"name": "brackets"}, "transform": [{"filter": "datum.gene == 'Rpl22' && datum.level == 'inner'"}],
      "mark": {"type": "rule", "color": "#333333", "strokeWidth": 2, "yOffset": 32},
      "encoding": {"x": {"field": "from", "type": "nominal", "bandPosition": 0, "scale": {"domain": ["WT", "Tsc1"], "paddingInner": 0.277, "paddingOuter": 0.143}}, "x2": {"field": "to", "bandPosition": 1}, "y": {"datum": 0}}},
     {"data": {"name": "brackets"}, "transform": [{"filter": "datum.gene == 'Rpl22' && datum.level == 'outer'"}],
      "mark": {"type": "rule", "color": "#333333", "strokeWidth": 2, "yOffset": 74, "y2Offset": 96},
      "encoding": {"x": {"field": "from", "type": "nominal", "bandPosition": 0, "scale": {"domain": ["WT", "Tsc1"], "paddingInner": 0.277, "paddingOuter": 0.143}}, "y": {"datum": 0}, "y2": {"datum": 0}}},
     {"data": {"name": "brackets"}, "transform": [{"filter": "datum.gene == 'Rpl22' && datum.level == 'outer'"}],
      "mark": {"type": "rule", "color": "#333333", "strokeWidth": 2, "yOffset": 74, "y2Offset": 96},
      "encoding": {"x": {"field": "to", "type": "nominal", "bandPosition": 1, "scale": {"domain": ["WT", "Tsc1"], "paddingInner": 0.277, "paddingOuter": 0.143}}, "y": {"datum": 0}, "y2": {"datum": 0}}},
     {"data": {"name": "brackets"}, "transform": [{"filter": "datum.gene == 'Rpl22' && datum.level == 'outer'"}],
      "mark": {"type": "rule", "color": "#333333", "strokeWidth": 2, "yOffset": 96},
      "encoding": {"x": {"field": "from", "type": "nominal", "bandPosition": 0, "scale": {"domain": ["WT", "Tsc1"], "paddingInner": 0.277, "paddingOuter": 0.143}}, "x2": {"field": "to", "bandPosition": 1}, "y": {"datum": 0}}},
     {"data": {"name": "glabels"}, "transform": [{"filter": "datum.gene == 'Rpl22' && datum.group == 'WT'"}],
      "mark": {"type": "text", "font": "Liberation Sans", "fontSize": 30, "baseline": "alphabetic", "align": "center", "dy": 68, "color": "black"},
      "encoding": {"x": {"field": "group", "type": "nominal", "scale": {"domain": ["WT", "Tsc1"], "paddingInner": 0.277, "paddingOuter": 0.143}}, "y": {"datum": 0}, "text": {"field": "group"}}},
     {"data": {"name": "glabels"}, "transform": [{"filter": "datum.gene == 'Rpl22' && datum.group == 'Tsc1'"}],
      "mark": {"type": "text", "font": "Liberation Sans", "fontSize": 30, "baseline": "alphabetic", "align": "right", "dx": 19, "dy": 68, "color": "black"},
      "encoding": {"x": {"field": "group", "type": "nominal", "scale": {"domain": ["WT", "Tsc1"], "paddingInner": 0.277, "paddingOuter": 0.143}}, "y": {"datum": 0}, "text": {"field": "group"}}},
     {"data": {"name": "glabels"}, "transform": [{"filter": "datum.gene == 'Rpl22' && datum.group == 'Tsc1'"}],
      "mark": {"type": "text", "font": "Liberation Sans", "fontSize": 24, "baseline": "alphabetic", "align": "left", "dx": 20, "dy": 54, "color": "black"},
      "encoding": {"x": {"field": "group", "type": "nominal", "scale": {"domain": ["WT", "Tsc1"], "paddingInner": 0.277, "paddingOuter": 0.143}}, "y": {"datum": 0}, "text": {"field": "sup"}}}
    ]}
  ]
 }
]
}
